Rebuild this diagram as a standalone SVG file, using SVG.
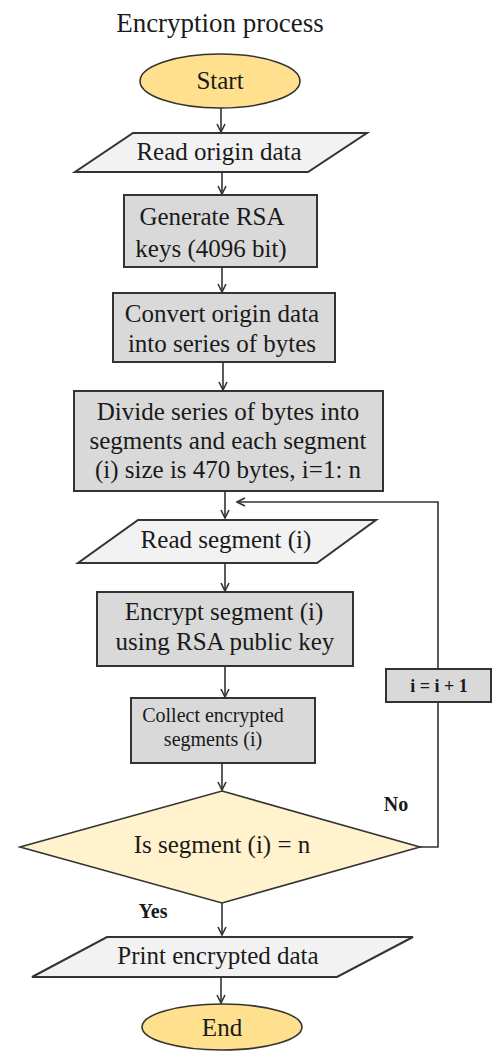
<svg xmlns="http://www.w3.org/2000/svg" width="493" height="1051" viewBox="0 0 493 1051" font-family="'Liberation Serif', 'DejaVu Serif', serif">
<style>
text{font-family:"Liberation Serif","Times New Roman","DejaVu Serif",serif;fill:#1a1a1a;text-anchor:middle}
.t{font-size:25px}
.s{font-size:20px}
.b{font-weight:bold;font-size:20px}
.term{fill:#FFE08F;stroke:#333;stroke-width:1.6}
.io{fill:#F2F2F2;stroke:#333;stroke-width:2}
.proc{fill:#D9D9D9;stroke:#333;stroke-width:2}
.dec{fill:#FFF2CC;stroke:#333;stroke-width:1.6}
.c{fill:none;stroke:#333;stroke-width:1.6}
</style>
<defs>
<marker id="ah" viewBox="0 0 10 10" refX="9" refY="5" markerWidth="10" markerHeight="10" markerUnits="userSpaceOnUse" orient="auto">
<polyline points="1,1 9,5 1,9" fill="none" stroke="#333" stroke-width="1.6"/>
</marker>
</defs>
<text x="220" y="32" style="font-size:27px">Encryption process</text>
<g id="connectors">
<line class="c" x1="221" y1="108" x2="221" y2="132" marker-end="url(#ah)"/>
<line class="c" x1="222" y1="172" x2="222" y2="194" marker-end="url(#ah)"/>
<line class="c" x1="222" y1="267" x2="222" y2="292" marker-end="url(#ah)"/>
<line class="c" x1="223" y1="362" x2="223" y2="390" marker-end="url(#ah)"/>
<line class="c" x1="225" y1="491" x2="225" y2="518" marker-end="url(#ah)"/>
<line class="c" x1="225" y1="563" x2="225" y2="591" marker-end="url(#ah)"/>
<line class="c" x1="225" y1="666" x2="225" y2="697" marker-end="url(#ah)"/>
<line class="c" x1="222" y1="763" x2="222" y2="790" marker-end="url(#ah)"/>
<line class="c" x1="222" y1="903" x2="222" y2="935" marker-end="url(#ah)"/>
<line class="c" x1="221" y1="977" x2="221" y2="1003" marker-end="url(#ah)"/>
<polyline class="c" points="420,847 438,847 438,702"/>
<polyline class="c" points="438,669 438,502 237,502" marker-end="url(#ah)"/>
</g>
<g id="start">
<ellipse class="term" cx="220" cy="81" rx="80" ry="27"/>
<text class="t" x="220" y="89">Start</text>
</g>
<g id="read-origin">
<polygon class="io" points="133,133 367,133 308,172 75,172"/>
<text class="t" x="219" y="160">Read origin data</text>
</g>
<g id="generate">
<rect class="proc" x="124" y="195" width="193" height="72"/>
<text class="t" x="212" y="225">Generate RSA</text>
<text class="t" x="211" y="257">keys (4096 bit)</text>
</g>
<g id="convert">
<rect class="proc" x="113" y="293" width="222" height="69"/>
<text class="t" x="222" y="322">Convert origin data</text>
<text class="t" x="222" y="352">into series of bytes</text>
</g>
<g id="divide">
<rect class="proc" x="74" y="391" width="309" height="100"/>
<text class="t" x="228" y="420">Divide series of bytes into</text>
<text class="t" x="228" y="449">segments and each segment</text>
<text class="t" x="228" y="478">(i) size is 470 bytes, i=1: n</text>
</g>
<g id="read-segment">
<polygon class="io" points="138,520 376,520 317,563 78,563"/>
<text class="t" x="226" y="548">Read segment (i)</text>
</g>
<g id="encrypt">
<rect class="proc" x="97" y="592" width="256" height="74"/>
<text class="t" x="224" y="620">Encrypt segment (i)</text>
<text class="t" x="225" y="650">using RSA public key</text>
</g>
<g id="collect">
<rect class="proc" x="131" y="698" width="184" height="65"/>
<text class="s" x="213" y="722">Collect encrypted</text>
<text class="s" x="213" y="746">segments (i)</text>
</g>
<g id="decision">
<polygon class="dec" points="222,791 420,847 222,903 20,847"/>
<text class="t" x="222" y="853">Is segment (i) = n</text>
</g>
<g id="increment">
<rect class="proc" x="386" y="669" width="105" height="33"/>
<text class="b" x="439" y="692" style="font-size:18px">i = i + 1</text>
</g>
<text class="b" x="396" y="811">No</text>
<text class="b" x="153" y="918">Yes</text>
<g id="print">
<polygon class="io" points="107,937 413,937 337,977 32,977"/>
<text class="t" x="218" y="964">Print encrypted data</text>
</g>
<g id="end">
<ellipse class="term" cx="222" cy="1027" rx="80" ry="23"/>
<text class="t" x="222" y="1036">End</text>
</g>
</svg>
